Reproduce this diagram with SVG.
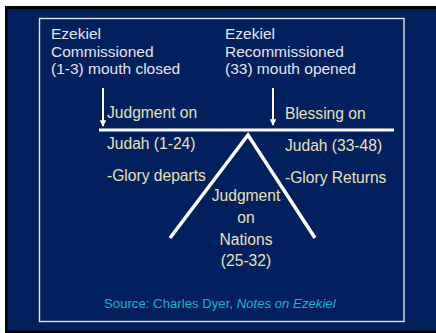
<svg xmlns="http://www.w3.org/2000/svg" width="436" height="333" viewBox="0 0 436 333">
<defs>
<marker id="ah" viewBox="0 0 10 10" refX="9" refY="5" markerWidth="3.2" markerHeight="3.2" orient="auto" markerUnits="strokeWidth">
<path d="M0,0 L10,5 L0,10 z" fill="#ffffff"/>
</marker>
</defs>
<style>
text { font-family: "Liberation Sans", Arial, sans-serif; }
.h { fill: #e2e5ee; font-size: 15.5px; }
.c { fill: #e6e0b9; font-size: 15.6px; }
.m { text-anchor: middle; }
.src { fill: #13b4cc; font-size: 13.2px; }
.ln { stroke: #ffffff; fill: none; }
</style>
<rect x="0" y="0" width="436" height="333" fill="#ffffff"/>
<rect x="5" y="6" width="440" height="330" fill="#000000"/>
<rect x="7.5" y="9" width="430" height="321.5" fill="#03205e"/>
<rect x="39.5" y="18.5" width="364.5" height="303" fill="none" stroke="#dfe3ec" stroke-width="1.4"/>

<g id="connectors">
<line class="ln" x1="103" y1="88" x2="103" y2="126" stroke-width="2" marker-end="url(#ah)"/>
<line class="ln" x1="273" y1="88" x2="273" y2="125" stroke-width="2" marker-end="url(#ah)"/>
<line class="ln" x1="99" y1="130" x2="394" y2="130" stroke-width="3"/>
<polyline class="ln" points="170,238 248,135 315,238" stroke-width="3.5"/>
</g>

<g id="commissioned">
<text class="h" x="51" y="39">Ezekiel</text>
<text class="h" x="51" y="56.5">Commissioned</text>
<text class="h" x="51" y="73.5">(1-3) mouth closed</text>
</g>
<g id="recommissioned">
<text class="h" x="225" y="39">Ezekiel</text>
<text class="h" x="225" y="56.5">Recommissioned</text>
<text class="h" x="225" y="73.5">(33) mouth opened</text>
</g>
<g id="judgment-judah">
<text class="c" x="107" y="118">Judgment on</text>
<text class="c" x="107" y="149">Judah (1-24)</text>
<text class="c" x="107" y="181">-Glory departs</text>
</g>
<g id="blessing-judah">
<text class="c" x="285" y="119">Blessing on</text>
<text class="c" x="285" y="151">Judah (33-48)</text>
<text class="c" x="285" y="183">-Glory Returns</text>
</g>
<g id="judgment-nations">
<text class="c m" x="246" y="201">Judgment</text>
<text class="c m" x="246" y="223">on</text>
<text class="c m" x="246" y="245">Nations</text>
<text class="c m" x="246" y="266">(25-32)</text>
</g>
<g id="source">
<text class="src" x="104" y="308">Source: Charles Dyer, <tspan font-style="italic">Notes on Ezekiel</tspan></text>
</g>
</svg>
